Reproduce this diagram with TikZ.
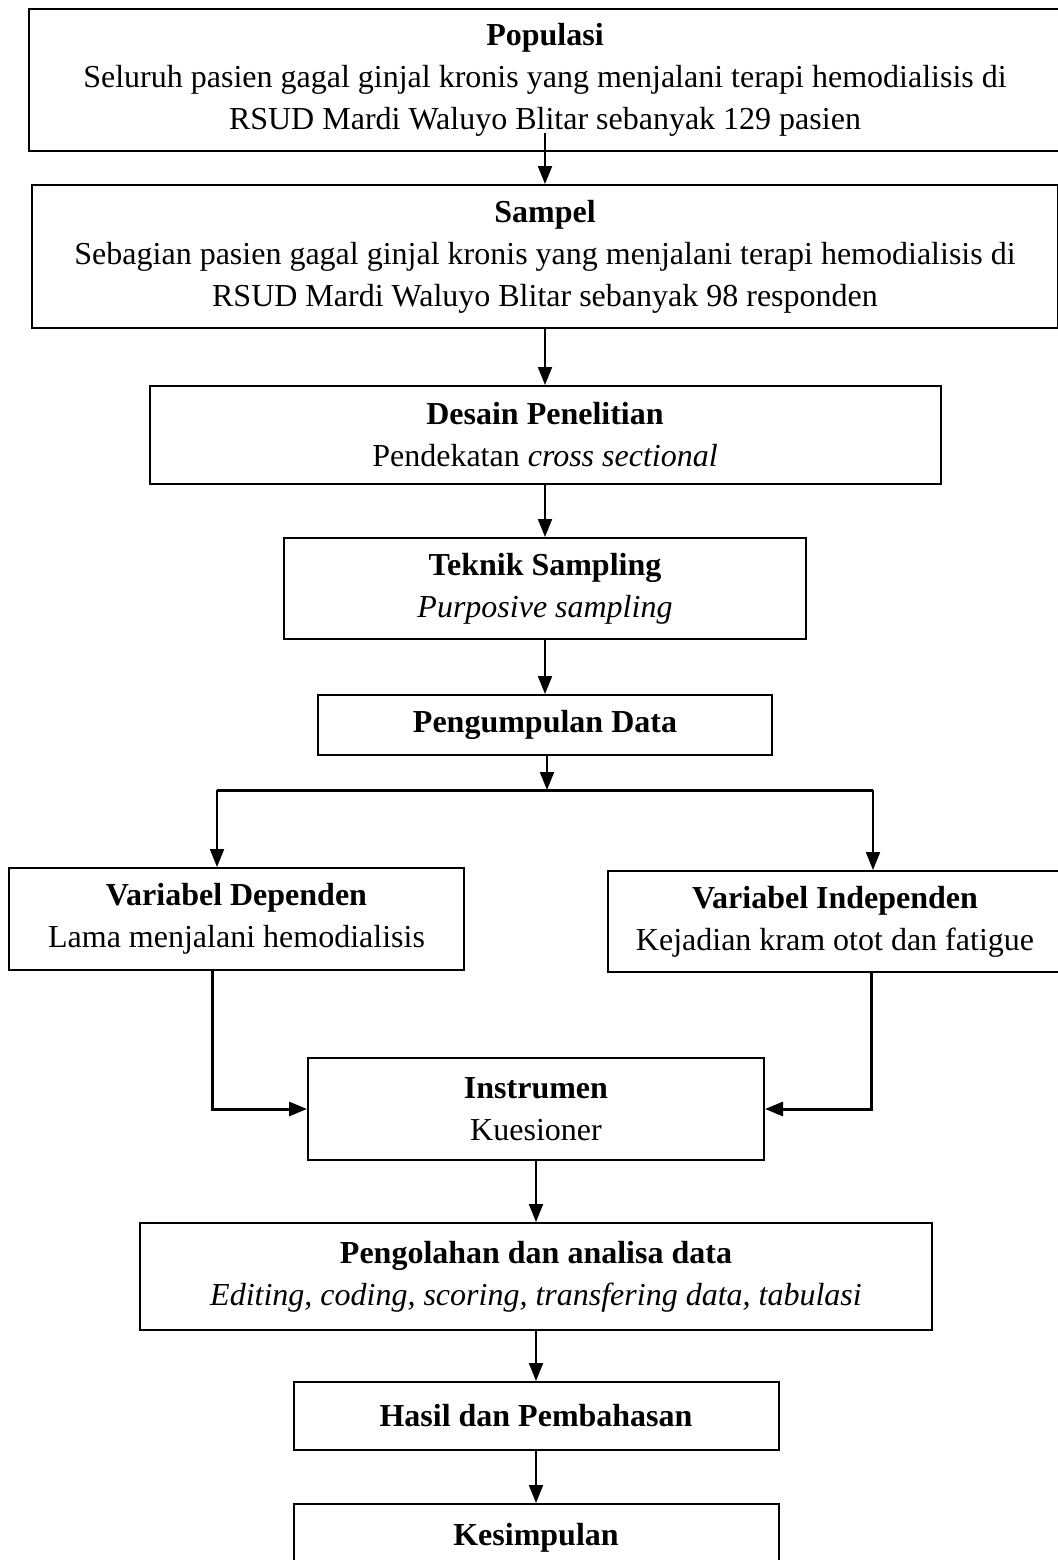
\documentclass[tikz,border=0pt]{standalone}
\usepackage{fontspec}
\setmainfont{Liberation Serif}
\usetikzlibrary{arrows.meta,positioning}

\begin{document}
\begin{tikzpicture}[
  x=1pt, y=1pt,
  font=\fontsize{32}{42}\selectfont,
  >={Triangle[length=18pt,width=14pt]},
  node distance=52pt,
  box/.style={draw, line width=2pt, align=center, inner sep=0pt},
  link/.style={->, line width=2pt},
  heavy/.style={->, line width=3pt},
]
\useasboundingbox (0,0) rectangle (1057,-1560);

\node[box, minimum width=1032pt, minimum height=142pt] (pop) at (545,-80)
  {\textbf{Populasi}\\ Seluruh pasien gagal ginjal kronis yang menjalani terapi hemodialisis di\\ RSUD Mardi Waluyo Blitar sebanyak 129 pasien};
\node[box, minimum width=1026pt, minimum height=143pt, below=32pt of pop] (sam)
  {\textbf{Sampel}\\ Sebagian pasien gagal ginjal kronis yang menjalani terapi hemodialisis di\\ RSUD Mardi Waluyo Blitar sebanyak 98 responden};
\node[box, minimum width=791pt, minimum height=98pt, below=56pt of sam] (des)
  {\textbf{Desain Penelitian}\\ Pendekatan \textit{cross sectional}};
\node[box, minimum width=522pt, minimum height=101pt, below=of des] (tek)
  {\textbf{Teknik Sampling}\\ \textit{Purposive sampling}};
\node[box, minimum width=454pt, minimum height=60pt, below=54pt of tek] (kum)
  {\textbf{Pengumpulan Data}};

\node[box, minimum width=455pt, minimum height=102pt] (vdep) at (236.5,-919)
  {\textbf{Variabel Dependen}\\ Lama menjalani hemodialisis};
\node[box, minimum width=454pt, minimum height=101pt] (vind) at (835,-921.5)
  {\textbf{Variabel Independen}\\ Kejadian kram otot dan fatigue};

\node[box, minimum width=456pt, minimum height=102pt] (ins) at (536,-1109)
  {\textbf{Instrumen}\\ Kuesioner};
\node[box, minimum width=792pt, minimum height=107pt, below=61pt of ins] (olah)
  {\textbf{Pengolahan dan analisa data}\\ \textit{Editing, coding, scoring, transfering data, tabulasi}};
\node[box, minimum width=485pt, minimum height=68pt, below=50pt of olah] (hasil)
  {\textbf{Hasil dan Pembahasan}};
\node[box, minimum width=485pt, minimum height=68pt, below=of hasil] (simpul)
  {\textbf{Kesimpulan}};

\coordinate (split) at (547,-790);
\coordinate (fl) at (217,-790);
\coordinate (fr) at (873,-790);

\draw[link] ([yshift=19pt]pop.south) -- (sam);
\draw[link] (sam) -- (des);
\draw[link] (des) -- (tek);
\draw[link] (tek) -- (kum);
\draw[link] (kum.south -| split) -- (split);
\draw[line width=3pt] (fl) -- (fr);
\draw[link] (fl) -- (fl |- vdep.north);
\draw[link] (fr) -- (fr |- vind.north);
\draw[heavy] ([xshift=-24pt]vdep.south) |- (ins.west);
\draw[heavy] ([xshift=36pt]vind.south) |- (ins.east);
\draw[link] (ins) -- (olah);
\draw[link] (olah) -- (hasil);
\draw[link] (hasil) -- (simpul);
\end{tikzpicture}
\end{document}
